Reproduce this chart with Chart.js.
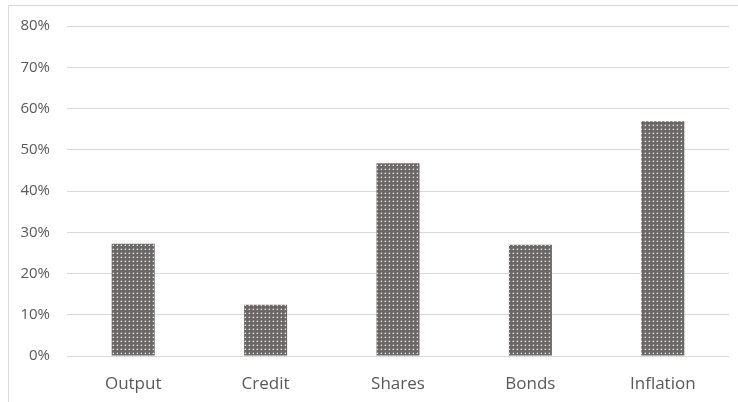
<!DOCTYPE html>
<html>
<head>
<meta charset="utf-8">
<script src="https://cdn.jsdelivr.net/npm/chart.js@4/dist/chart.umd.min.js"></script>
<style>
    html, body { margin: 0; padding: 0; background: #ffffff; }
    #wrap { width: 738px; height: 402px; position: relative; }
</style>
</head>
<body>
<div id="wrap"><canvas id="share-chart" width="738" height="402"></canvas></div>
<script>
const categories = ['Output', 'Credit', 'Shares', 'Bonds', 'Inflation'];
const shareValues = [0.272, 0.124, 0.467, 0.270, 0.569];
const tickValues = [0, 0.1, 0.2, 0.3, 0.4, 0.5, 0.6, 0.7, 0.8];

/**
 * Small dotted tile used as the bar fill
 * @returns {CanvasPattern}
 */
function dottedPattern() {
    const tile = document.createElement('canvas');
    tile.width = 4;
    tile.height = 4;
    const c = tile.getContext('2d');
    c.fillStyle = '#6d6868';
    c.fillRect(0, 0, 4, 4);
    c.fillStyle = '#9a9696';
    c.fillRect(0, 1, 1, 1);
    c.fillRect(1, 0, 1, 1);
    c.fillStyle = '#f0f0f0';
    c.fillRect(1, 1, 1, 1);
    return c.createPattern(tile, 'repeat');
}

// thin frame on the left and top edges
const framePlugin = {
    id: 'frame',
    beforeDraw(chart) {
        const ctx = chart.ctx;
        ctx.save();
        ctx.fillStyle = '#ffffff';
        ctx.fillRect(0, 0, chart.width, chart.height);
        ctx.fillStyle = '#d9d9d9';
        ctx.fillRect(8, 5, chart.width - 8, 1);
        ctx.fillRect(8, 5, 1, chart.height - 5);
        ctx.restore();
    }
};

const ctx = document.getElementById('share-chart');
new Chart(ctx, {
    type: 'bar',
    data: {
        labels: categories,
        datasets: [
            {
                data: shareValues,
                backgroundColor: dottedPattern(),
                borderWidth: 0,
                categoryPercentage: 1,
                barPercentage: 0.325
            }
        ]
    },
    options: {
        responsive: false,
        animation: false,
        layout: {
            padding: { left: 0, right: 9, top: 26, bottom: 0 }
        },
        scales: {
            x: {
                grid: { display: false, drawTicks: false },
                border: { display: false },
                ticks: {
                    color: '#595959',
                    padding: 18,
                    font: { family: 'Open Sans', size: 17 }
                },
                afterFit(scale) {
                    scale.height = 46;
                }
            },
            y: {
                min: 0,
                max: 0.8,
                afterBuildTicks(scale) {
                    scale.ticks = tickValues.map(v => ({ value: v }));
                },
                grid: { color: '#d9d9d9', lineWidth: 1, drawTicks: false },
                border: { display: false },
                ticks: {
                    color: '#595959',
                    padding: 17,
                    font: { family: 'Open Sans', size: 15 },
                    callback: v => Math.round(v * 100) + '%'
                },
                afterFit(scale) {
                    scale.width = 67;
                }
            }
        },
        plugins: {
            legend: { display: false },
            tooltip: { enabled: false }
        }
    },
    plugins: [framePlugin]
});
</script>
</body>
</html>
